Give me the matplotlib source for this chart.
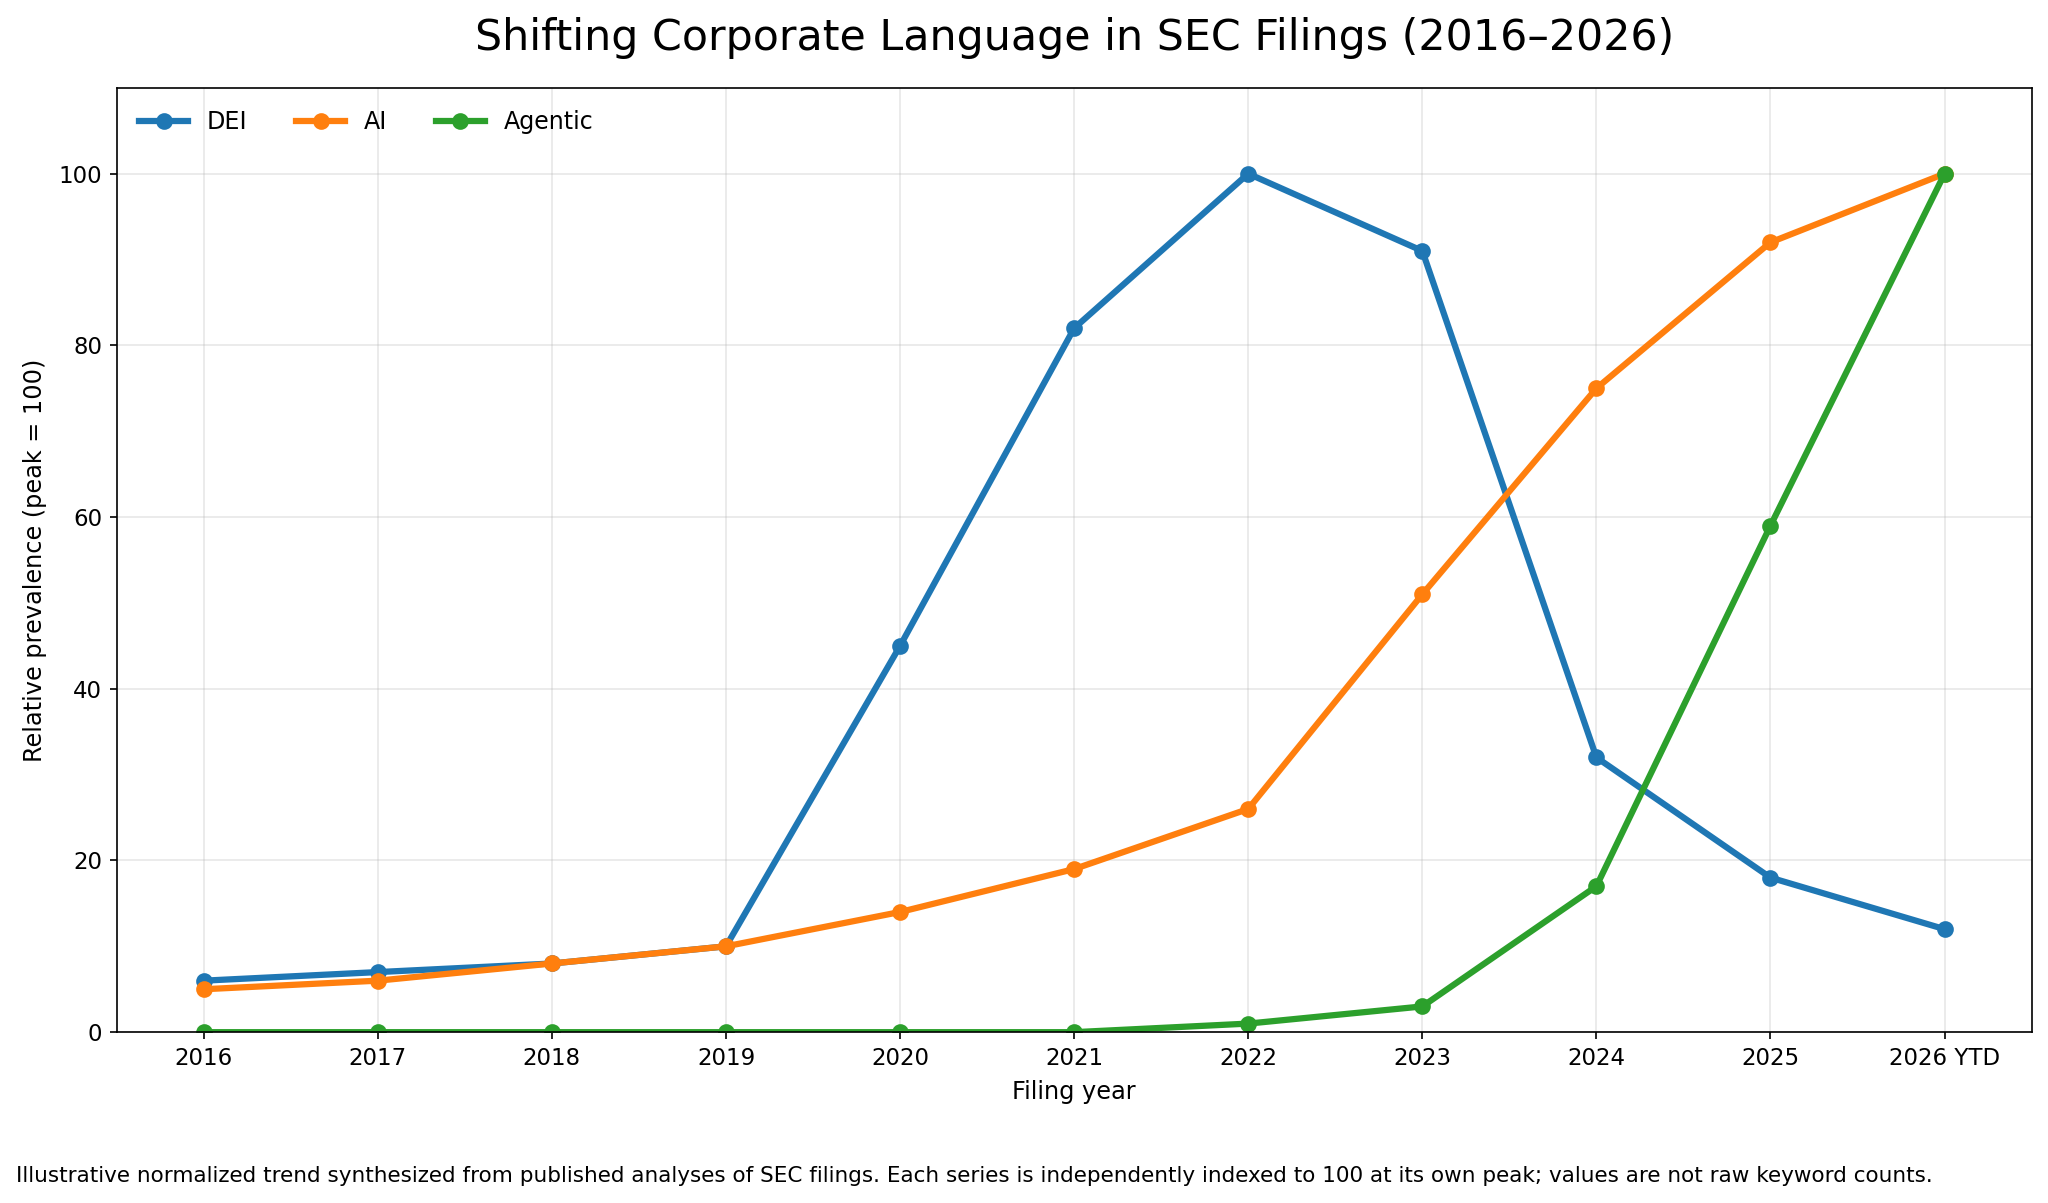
import matplotlib
matplotlib.use("Agg")
import matplotlib.pyplot as plt

years = ["2016", "2017", "2018", "2019", "2020", "2021", "2022", "2023",
         "2024", "2025", "2026 YTD"]
dei = [6, 7, 8, 10, 45, 82, 100, 91, 32, 18, 12]
ai = [5, 6, 8, 10, 14, 19, 26, 51, 75, 92, 100]
agentic = [0, 0, 0, 0, 0, 0, 1, 3, 17, 59, 100]

fig, ax = plt.subplots(figsize=(2048 / 150, 1203 / 150))
fig.subplots_adjust(left=0.057, right=0.992, top=0.927, bottom=0.142)

x = range(len(years))
ax.plot(x, dei, marker="o", lw=3, ms=7, color="#1f77b4", label="DEI")
ax.plot(x, ai, marker="o", lw=3, ms=7, color="#ff7f0e", label="AI")
ax.plot(x, agentic, marker="o", lw=3, ms=7, color="#2ca02c", label="Agentic")

ax.set_xticks(list(x))
ax.set_xticklabels(years, fontsize=11)
ax.tick_params(axis="y", labelsize=11)
ax.set_ylim(0, 110)
ax.set_xlim(-0.5, len(years) - 0.5)
ax.set_xlabel("Filing year", fontsize=11.5, labelpad=5)
ax.set_ylabel("Relative prevalence (peak = 100)", fontsize=11.5, labelpad=5.5)
ax.set_title("Shifting Corporate Language in SEC Filings (2016\u20132026)",
             fontsize=20.5, pad=18)
ax.grid(alpha=0.3)
ax.legend(loc="upper left", ncol=3, frameon=False, fontsize=11.4,
          handlelength=2.05, borderaxespad=0.55, columnspacing=2.05)

# footnote under the axes
fig.text(0.008, 0.0175,
         "Illustrative normalized trend synthesized from published analyses "
         "of SEC filings. Each series is independently indexed to 100 at its "
         "own peak; values are not raw keyword counts.",
         fontsize=10.3, ha="left", va="baseline")

fig.savefig("out.png", dpi=150)
plt.close(fig)
